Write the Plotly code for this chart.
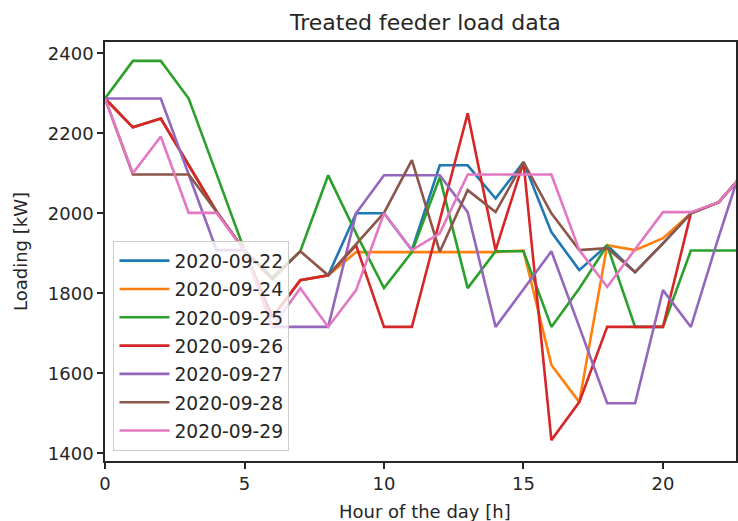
import plotly.graph_objects as go

hours = list(range(24))
dates = ["2020-09-22", "2020-09-24", "2020-09-25", "2020-09-26",
         "2020-09-27", "2020-09-28", "2020-09-29"]
colors = ["#1f77b4", "#ff7f0e", "#2ca02c", "#d62728", "#9467bd", "#8c564b", "#e377c2"]

load_0922 = [2287, 2215, 2237, 2121, 2004, 1907, 1740, 1833, 1845, 2000, 2000, 1908,
             2120, 2120, 2037, 2128, 1953, 1858, 1920, 1853, 1925, 2000, 2028, 2108]
load_0924 = [2287, 2215, 2237, 2121, 2004, 1907, 1740, 1833, 1845, 1903, 1903, 1903,
             1903, 1903, 1903, 1907, 1621, 1528, 1920, 1908, 1938, 2000, 2028, 2108]
load_0925 = [2287, 2381, 2381, 2287, 2098, 1907, 1840, 1905, 2095, 1950, 1813, 1903,
             2090, 1813, 1905, 1905, 1716, 1812, 1920, 1716, 1716, 1907, 1907, 1907]
load_0926 = [2287, 2215, 2237, 2121, 2004, 1907, 1740, 1833, 1845, 1920, 1716, 1716,
             1983, 2250, 1908, 2128, 1433, 1528, 1716, 1716, 1716, 2000, 2028, 2108]
load_0927 = [2287, 2287, 2287, 2097, 1908, 1908, 1716, 1716, 1716, 2000, 2095, 2095,
             2095, 2003, 1716, 1810, 1905, 1716, 1525, 1525, 1808, 1716, 1942, 2157]
load_0928 = [2287, 2097, 2097, 2097, 2004, 1907, 1835, 1905, 1845, 1923, 2001, 2133,
             1904, 2058, 2003, 2128, 2000, 1908, 1913, 1853, 1925, 2000, 2028, 2108]
load_0929 = [2287, 2100, 2192, 2001, 2001, 1907, 1716, 1813, 1716, 1808, 2000, 1908,
             1950, 2097, 2097, 2097, 2097, 1908, 1816, 1910, 2003, 2003, 2028, 2108]

series = [load_0922, load_0924, load_0925, load_0926, load_0927, load_0928, load_0929]

yticks = [1400, 1600, 1800, 2000, 2200, 2400]
xticks = [0, 5, 10, 15, 20]

FONT = "DejaVu Sans"
fig = go.Figure()
for i, (d, ys) in enumerate(zip(dates, series)):
    fig.add_trace(go.Scatter(
        x=hours, y=ys, mode="lines", name=d,
        line=dict(color=colors[i], width=2.6),
        legendgroup=d,
    ))

W, H = 738, 521
L, T, B = 104.5, 42, 461
fig.update_layout(
    width=W, height=H,
    margin=dict(l=L, r=0, t=T, b=H - B, pad=0),
    paper_bgcolor="white", plot_bgcolor="white",
    font=dict(family=FONT, size=18, color="#262626"),
    showlegend=True,
    legend=dict(
        x=(113 - L) / (W - L), y=(B - 451) / (B - T),
        xanchor="left", yanchor="bottom",
        bgcolor="rgba(255,255,255,0.8)", bordercolor="#cccccc", borderwidth=1,
        font=dict(family=FONT, size=18.7, color="#262626"),
        tracegroupgap=1, traceorder="grouped", itemwidth=50,
    ),
    xaxis=dict(
        range=[0, (W - L) / ((664.7 - 104.5) / 20)],
        tickmode="array", tickvals=xticks, ticktext=[str(v) for v in xticks],
        ticks="outside", ticklen=6, tickwidth=1.5, tickcolor="#262626",
        showline=True, linecolor="#262626", linewidth=1.5, mirror=True,
        showgrid=False, zeroline=False,
        tickfont=dict(family=FONT, size=18, color="#262626"),
    ),
    yaxis=dict(
        range=[1380.8, 2428.3],
        tickmode="array", tickvals=yticks, ticktext=[str(v) for v in yticks],
        ticks="outside", ticklen=6, tickwidth=1.5, tickcolor="#262626",
        showline=True, linecolor="#262626", linewidth=1.5, mirror=True,
        showgrid=False, zeroline=False,
        tickfont=dict(family=FONT, size=18, color="#262626"),
    ),
    annotations=[
        dict(text="Treated feeder load data", xref="paper", yref="paper",
             x=(426 - L) / (W - L), y=1, yshift=5, xanchor="center", yanchor="bottom",
             showarrow=False, font=dict(family=FONT, size=22, color="#262626")),
        dict(text="Hour of the day [h]", xref="paper", yref="paper",
             x=(426 - L) / (W - L), y=0, yshift=-(511 - B), xanchor="center", yanchor="middle",
             showarrow=False, font=dict(family=FONT, size=18, color="#262626")),
        dict(text="Loading [kW]", xref="paper", yref="paper",
             x=0, xshift=-(L - 20), y=0.5, xanchor="center", yanchor="middle",
             textangle=-90, showarrow=False, font=dict(family=FONT, size=18, color="#262626")),
    ],
)
fig.write_html("out.html")
